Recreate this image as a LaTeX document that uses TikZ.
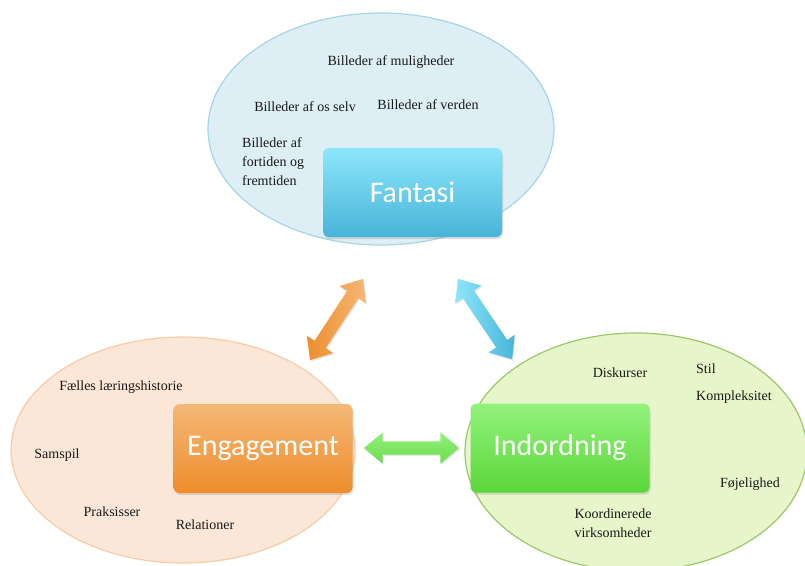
\documentclass[tikz,border=0pt]{standalone}
\usepackage{fontspec}
\setmainfont{Liberation Serif}
\newfontfamily\boxfont{Carlito}
\usetikzlibrary{shapes.arrows,shadows,calc}
\definecolor{bluefill}{HTML}{DDEEF4}
\definecolor{blueedge}{HTML}{A6D5E5}
\definecolor{orfill}{HTML}{FBE7D7}
\definecolor{oredge}{HTML}{F7CCA8}
\definecolor{grfill}{HTML}{E7F5CA}
\definecolor{gredge}{HTML}{9DC767}
\definecolor{bluetop}{HTML}{8DE6FA}
\definecolor{bluebot}{HTML}{48B4D9}
\definecolor{ortop}{HTML}{F5B877}
\definecolor{orbot}{HTML}{EE8D2C}
\definecolor{grtop}{HTML}{92F27C}
\definecolor{grbot}{HTML}{5CD63A}
\tikzset{
  cloud/.style={line width=1.2pt},
  mainbox/.style={rounded corners=6pt, minimum width=179pt, minimum height=89pt,
    inner sep=0pt, text=white, font=\boxfont\fontsize{30}{30}\selectfont,
    drop shadow={opacity=0.25, shadow xshift=1pt, shadow yshift=-2pt}},
  word/.style={font=\fontsize{14}{19}\selectfont, text=black!90, inner sep=0pt},
  dblarrow/.style={double arrow, inner xsep=0pt, inner ysep=6.5pt, minimum width=31pt,
    double arrow head extend=9pt, double arrow tip angle=80,
    drop shadow={opacity=0.2, shadow xshift=1pt, shadow yshift=-1.5pt}}
}
\begin{document}
\begin{tikzpicture}[x=1pt,y=-1pt]
\useasboundingbox (0,0) rectangle (805,565);
% clouds
\path[cloud, fill=bluefill, draw=blueedge] (381,129) ellipse [x radius=173pt, y radius=116pt];
\path[cloud, fill=orfill, draw=oredge] (183,450) ellipse [x radius=172pt, y radius=113pt];
\path[cloud, fill=grfill, draw=gredge] (636,452) ellipse [x radius=171pt, y radius=119pt];
% main boxes
\node[mainbox, top color=bluetop, bottom color=bluebot] (fantasi) at (412.5,192.5) {Fantasi};
\node[mainbox, top color=ortop, bottom color=orbot] (engagement) at (263,448.5) {Engagement};
\node[mainbox, top color=grtop, bottom color=grbot] (indordning) at (560,448) {Indordning};
% arrow end points
\coordinate (oa) at (310,360);
\coordinate (ob) at (363,279);
\coordinate (ba) at (458,279);
\coordinate (bb) at (512,359);
\coordinate (ga) at (364,448);
\coordinate (gb) at (459,448);
\node[dblarrow, minimum height=97pt, rotate=56.8, left color=orbot, right color=ortop] (arrEF) at ($(oa)!0.5!(ob)$) {};
\node[dblarrow, minimum height=97pt, rotate=-56, left color=bluetop, right color=bluebot] (arrFI) at ($(ba)!0.5!(bb)$) {};
\node[dblarrow, minimum height=95pt, top color=grtop, bottom color=grbot!90] (arrEI) at ($(ga)!0.5!(gb)$) {};
% Fantasi words
\node[word] (f1) at (391,62) {Billeder af muligheder};
\node[word] (f2) at (305,107) {Billeder af os selv};
\node[word] (f3) at (428,105) {Billeder af verden};
\node[word, anchor=north west, align=left] (f4) at (242,137) {Billeder af\\fortiden og\\fremtiden};
% Engagement words
\node[word] (e1) at (121,387) {Fælles læringshistorie};
\node[word] (e2) at (57,455) {Samspil};
\node[word] (e3) at (112,512) {Praksisser};
\node[word] (e4) at (205,525) {Relationer};
% Indordning words
\node[word] (i1) at (620,373) {Diskurser};
\node[word, anchor=west] (i2) at (696,369) {Stil};
\node[word, anchor=west] (i3) at (696,397) {Kompleksitet};
\node[word] (i4) at (750,484) {Føjelighed};
\node[word, align=center] (i5) at (613,523.5) {Koordinerede\\virksomheder};
\end{tikzpicture}
\end{document}
